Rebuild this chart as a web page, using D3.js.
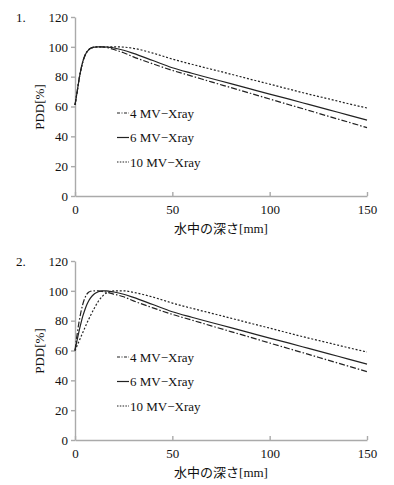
<meta charset="utf-8">
<style>
body { margin: 0; background: #fff; font-family: "Liberation Serif", "DejaVu Serif", "Noto Sans CJK JP", serif; }
.axis path, .axis line { stroke: #aaa; stroke-width: 1.4; }
.axis text { font-family: "Liberation Serif", "DejaVu Serif", serif; font-size: 13px; fill: #111; }
.lbl { font-size: 13px; fill: #111; }
.curve { fill: none; stroke: #222; stroke-width: 1.2; }
</style>
<body>
<script src="https://cdnjs.cloudflare.com/ajax/libs/d3/7.8.5/d3.min.js"></script>
<script>

var width = 394, height = 485;

var depths = [0,1,2,3,4,5,6,7,8,10,12,14,16,18,20,25,30,40,50,60,70,80,90,100,110,120,130,140,150];

// chart 1
var mv4a  = [61,69,77.5,84.5,90,93.8,96.4,98,99,99.8,100,99.9,99.6,99,98.2,96,93.3,88.6,84.2,80.4,76.5,72.7,68.9,65,61.2,57.4,53.5,49.7,45.8];
var mv6a  = [61,69,77.5,84.5,90,93.8,96.4,98,99,99.8,100,100,99.9,99.6,99.2,97.7,95.6,90.8,86,82.3,78.8,75.3,71.8,68.3,64.9,61.4,57.9,54.4,50.9];
var mv10a = [61,69,77.5,84.5,90,93.8,96.4,98,99,99.8,100,100,100,100,100,99.8,99,95.8,91.8,88.3,85,81.7,78.3,75,71.6,68.3,65.2,62,59];

// chart 2
var mv4b  = [60,70,78.5,85.5,91,95,97.6,99,99.7,100,100,99.6,99.1,98.5,97.8,96,93.3,88.6,84.2,80.4,76.5,72.7,68.9,65,61.2,57.4,53.5,49.7,45.8];
var mv6b  = [60,66.5,72.5,78,83,87,90.5,93.2,95.3,98,99.4,100,100,99.6,99.2,97.7,95.6,90.8,86,82.3,78.8,75.3,71.8,68.3,64.9,61.4,57.9,54.4,50.9];
var mv10b = [60,63,66,69,72,75,78,80.8,83.5,88.5,93,96.3,98.4,99.5,100,100,99,95.8,91.8,88.3,85,81.7,78.3,75,71.6,68.3,65.2,62,59];

var seriesNames = ["4 MV\u2212Xray", "6 MV\u2212Xray", "10 MV\u2212Xray"];
var dashes = ["6,2,1.5,2", null, "2,1.8"];
var yTicks = [0,20,40,60,80,100,120];
var xTicks = [0,50,100,150];

var svg = d3.select("body").append("svg")
    .attr("width", width)
    .attr("height", height);

function drawChart(top, label, values) {
  var g = svg.append("g").attr("transform", "translate(0," + top + ")");

  var x = d3.scaleLinear().domain([0,150]).range([75,367]);
  var y = d3.scaleLinear().domain([0,120]).range([179,0]);

  g.append("g")
      .attr("class","axis")
      .attr("transform","translate(0,179)")
      .call(d3.axisBottom(x).tickValues(xTicks).tickSizeInner(-4).tickSizeOuter(0).tickPadding(9))
      .attr("font-family", null);

  g.append("g")
      .attr("class","axis")
      .attr("transform","translate(75,0)")
      .call(d3.axisLeft(y).tickValues(yTicks).tickSizeInner(4).tickSizeOuter(0).tickPadding(3))
      .attr("font-family", null);

  var line = d3.line()
      .x(function(d,i){ return x(depths[i]); })
      .y(function(d){ return y(d); })
      .curve(d3.curveMonotoneX);

  values.forEach(function(v,i) {
    g.append("path")
        .attr("class","curve")
        .attr("d", line(v))
        .attr("stroke-dasharray", dashes[i]);
  });

  // legend
  seriesNames.forEach(function(name,i) {
    var ly = 96 + i*24.5;
    g.append("line")
        .attr("x1",117).attr("x2",129)
        .attr("y1",ly).attr("y2",ly)
        .attr("stroke","#222")
        .attr("stroke-width",1.2)
        .attr("stroke-dasharray", dashes[i] ? (i==0 ? "3,1.5,1,1.5" : "1.5,1.3") : null);
    g.append("text")
        .attr("class","lbl")
        .attr("x",130)
        .attr("y",ly + 4.5)
        .text(name);
  });

  g.append("text")
      .attr("class","lbl")
      .attr("x",221)
      .attr("y",216)
      .attr("text-anchor","middle")
      .text("水中の深さ[mm]");

  g.append("text")
      .attr("class","lbl")
      .attr("transform","translate(44,90) rotate(-90)")
      .attr("text-anchor","middle")
      .text("PDD[%]");

  g.append("text")
      .attr("class","lbl")
      .attr("x",16)
      .attr("y",5)
      .text(label);
}

drawChart(17, "1.", [mv4a, mv6a, mv10a]);
drawChart(261, "2.", [mv4b, mv6b, mv10b]);

</script>
